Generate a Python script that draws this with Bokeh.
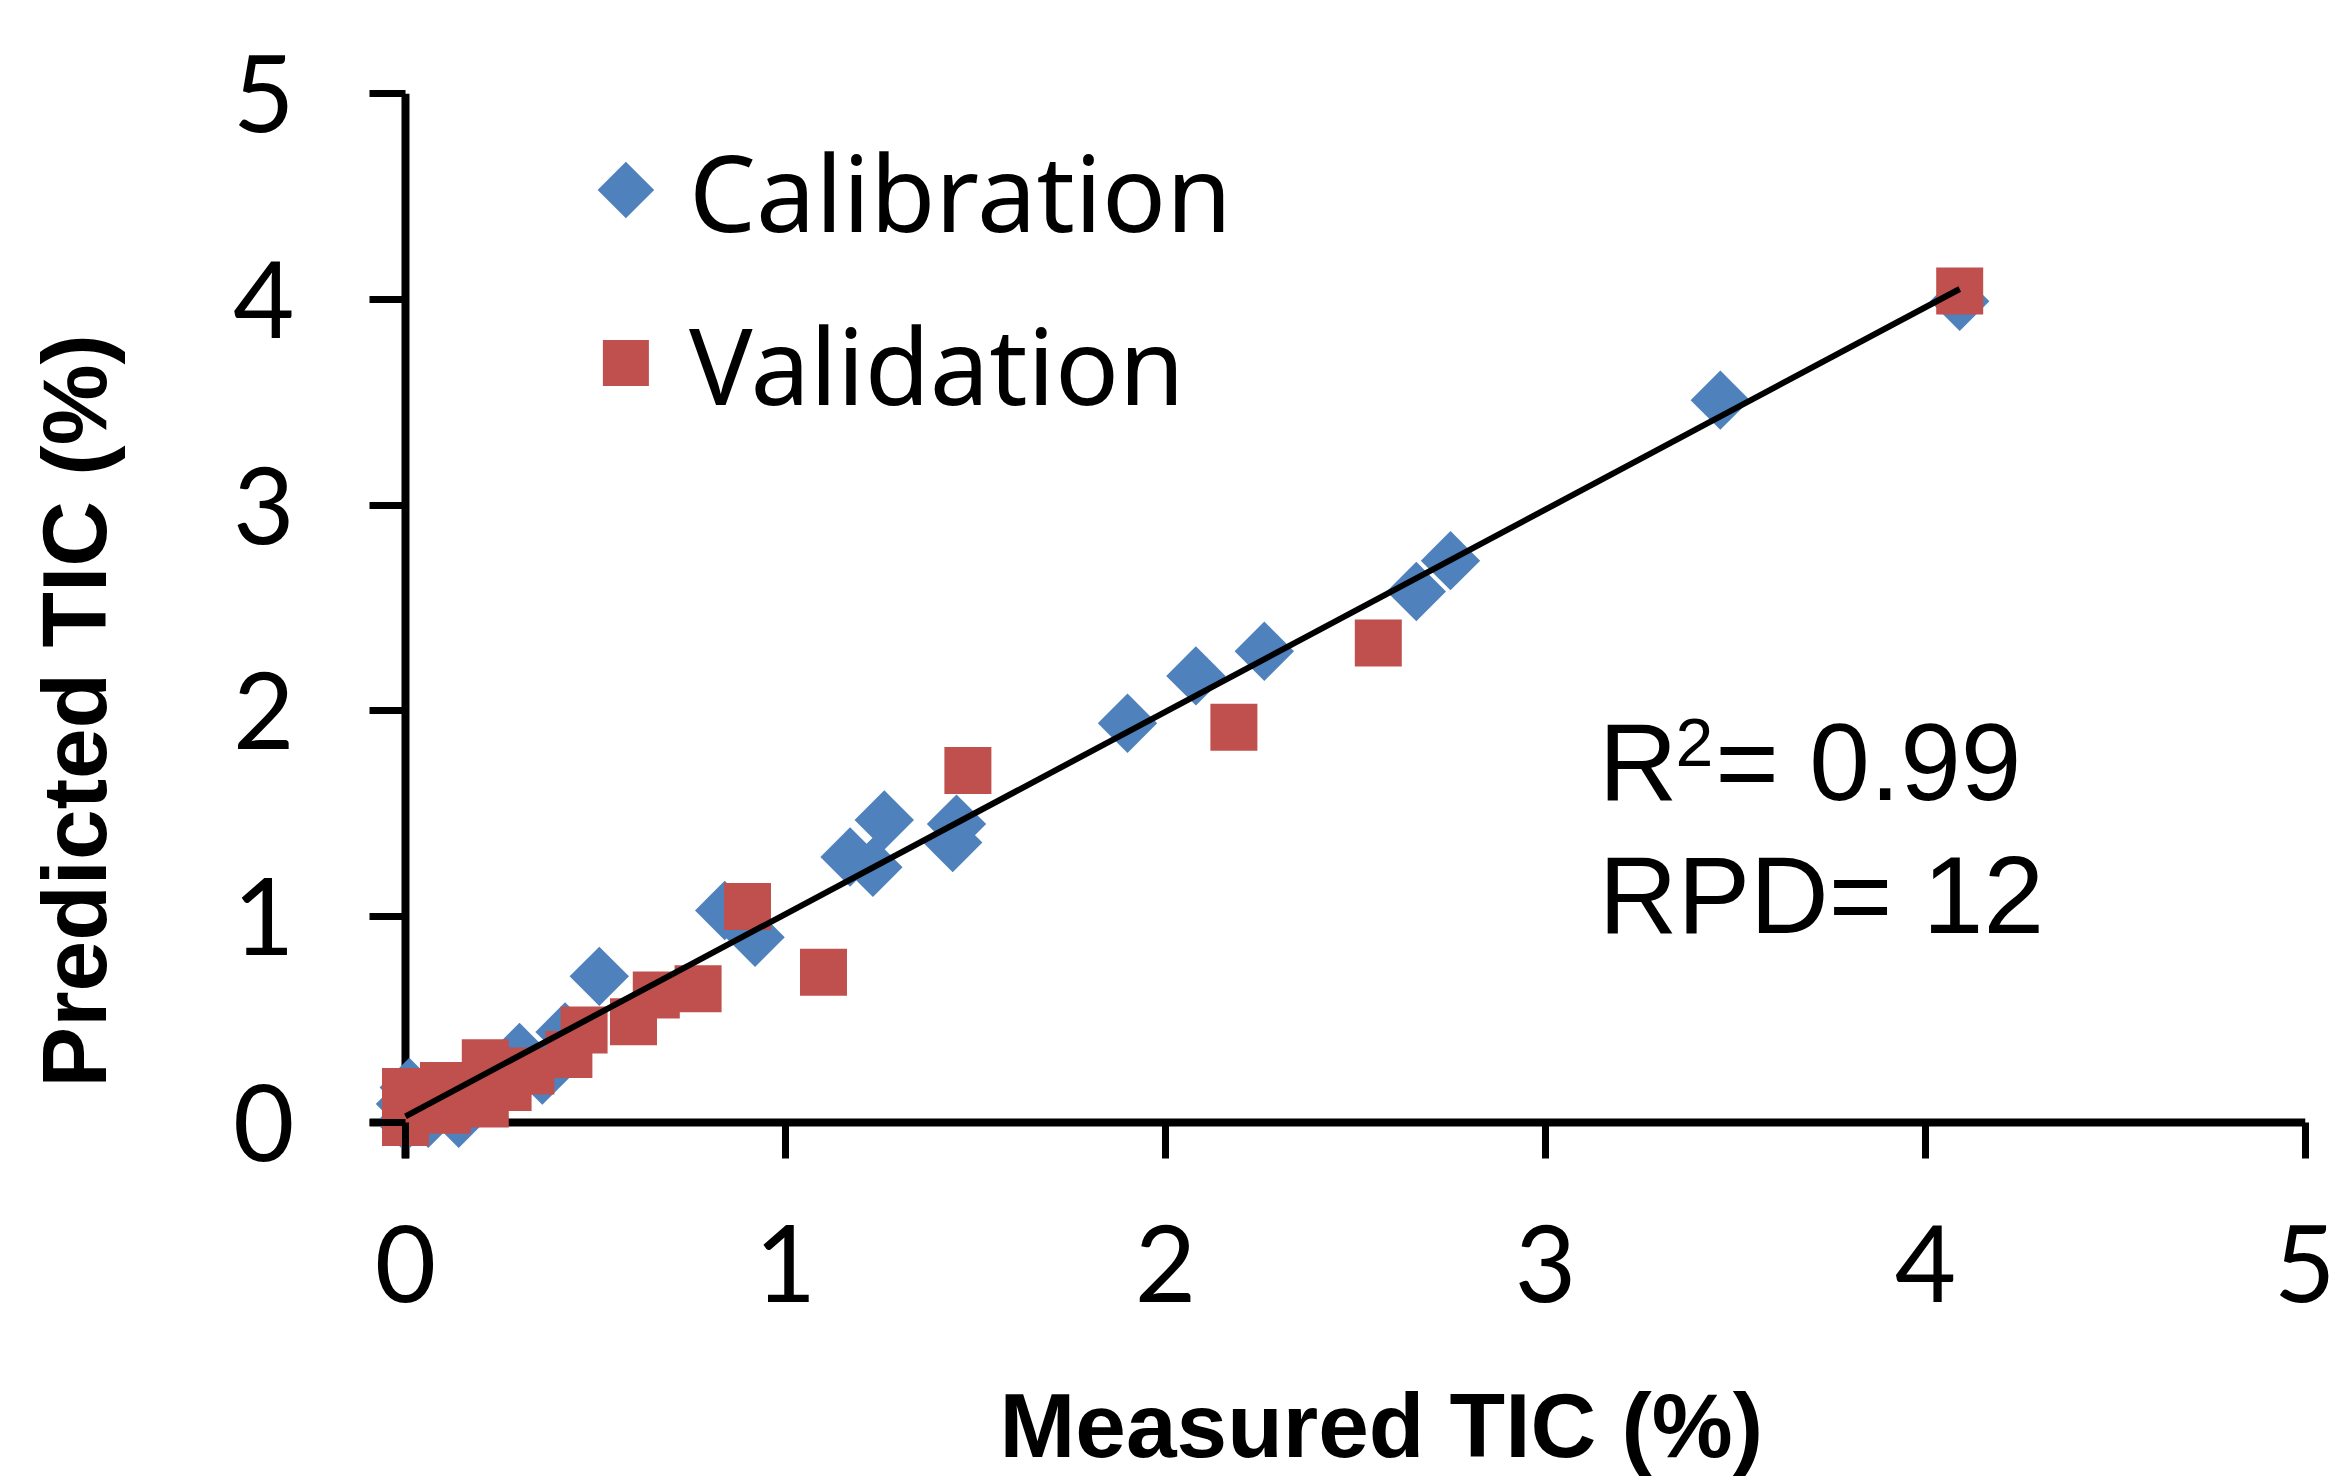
import numpy as np
from bokeh.plotting import figure
from bokeh.models import (Range1d, FixedTicker, Span, Label, Legend, LegendItem, Title,
                          LinearAxis)
from bokeh.embed import file_html
from bokeh.resources import INLINE

# ---- data ----
cal_x = [0.00, 0.00, 0.01, 0.06, 0.14, 0.05, 0.12, 0.18, 0.24, 0.30, 0.36, 0.41, 0.42,
         0.51, 0.84, 0.92, 1.17, 1.23, 1.26, 1.44, 1.45, 1.90, 2.08, 2.26, 2.66, 2.75,
         3.46, 4.09]
cal_y = [0.00, 0.09, 0.17, 0.02, 0.02, 0.12, 0.12, 0.16, 0.22, 0.34, 0.23, 0.33, 0.44,
         0.71, 1.03, 0.90, 1.29, 1.24, 1.47, 1.36, 1.45, 1.94, 2.17, 2.29, 2.58, 2.73,
         3.51, 3.99]

val_x = [0.00, 0.00, 0.10, 0.11, 0.21, 0.21, 0.27, 0.33, 0.43, 0.47, 0.60, 0.66, 0.77,
         0.90, 1.10, 1.48, 2.18, 2.56, 4.09]
val_y = [0.00, 0.15, 0.18, 0.06, 0.09, 0.29, 0.17, 0.25, 0.33, 0.45, 0.49, 0.62, 0.65,
         1.05, 0.73, 1.71, 1.92, 2.33, 4.04]

fit_x = [0.00, 4.09]
fit_y = [0.03, 4.05]

ticks = [0, 1, 2, 3, 4, 5]
series_names = ["Calibration", "Validation"]
x_title = "Measured TIC (%)"
y_title = "Predicted TIC (%)"

BLUE = "#4F81BD"
RED = "#C0504D"

p = figure(width=2335, height=1476, output_backend="svg", toolbar_location=None,
           x_range=Range1d(-0.0947, 5.0), y_range=Range1d(-0.175, 5.0),
           min_border_left=369, min_border_right=30, min_border_top=93,
           min_border_bottom=318)
p.outline_line_color = None
p.grid.visible = False
p.background_fill_color = "white"

# axis lines through the origin (under the markers)
p.add_layout(Span(location=0, dimension="height", line_color="black", line_width=8,
                  level="underlay"))
p.add_layout(Span(location=0, dimension="width", line_color="black", line_width=8,
                  level="underlay"))

r_cal = p.scatter(cal_x, cal_y, marker="square", angle=np.pi / 4, size=42,
                  fill_color=BLUE, line_color=None)
r_val = p.scatter(val_x, val_y, marker="square", size=47,
                  fill_color=RED, line_color=None)
p.line(fit_x, fit_y, line_color="black", line_width=6)

for ax in (p.xaxis, p.yaxis):
    ax.ticker = FixedTicker(ticks=ticks)
    ax.axis_line_color = None
    ax.major_tick_line_color = "black"
    ax.major_tick_line_width = 7
    ax.major_tick_in = 36
    ax.major_tick_out = 0
    ax.minor_tick_line_color = None
    ax.major_label_text_font = "Lato"
    ax.major_label_text_font_size = "106px"
    ax.major_label_text_color = "black"
p.xaxis.major_label_standoff = 66
p.yaxis.major_label_standoff = 75


def spacer(gap):
    # a blank axis (white tick, no label) that only reserves room
    # between the tick labels and the axis title
    return LinearAxis(ticker=FixedTicker(ticks=[2.5]), axis_line_color=None,
                      major_tick_line_color="white", major_tick_line_width=1,
                      minor_tick_line_color=None,
                      major_tick_in=0, major_tick_out=gap, minor_tick_in=0,
                      minor_tick_out=0, major_label_standoff=0,
                      major_label_overrides={2.5: ""},
                      major_label_text_font_size="1px")


p.add_layout(spacer(68), "below")
p.add_layout(spacer(106), "left")

title_style = dict(text_font="Liberation Sans", text_font_style="bold",
                   text_font_size="91px", text_color="black", standoff=0)
p.add_layout(Title(text=x_title, align="left", offset=630, **title_style), "below")
p.add_layout(Title(text=y_title, align="left", offset=71, **title_style), "left")

# legend: text through a Legend, markers drawn as the chart draws them
leg_cal = p.scatter([], [], marker="square", fill_alpha=0, line_alpha=0)
leg_val = p.scatter([], [], marker="square", fill_alpha=0, line_alpha=0)
legend = Legend(items=[LegendItem(label=series_names[0], renderers=[leg_cal]),
                       LegendItem(label=series_names[1], renderers=[leg_val])],
                location=(202, 708), orientation="vertical",
                glyph_width=108, glyph_height=173, label_height=173,
                spacing=0, padding=0, margin=0, label_standoff=10,
                label_text_font="Noto Sans", label_text_font_size="106px",
                label_text_color="black",
                border_line_color=None, background_fill_alpha=0)
p.add_layout(legend)
legend_mark_x = [0.58]
legend_mark_y = [4.531, 3.690]
p.scatter(legend_mark_x, legend_mark_y[:1], marker="square", angle=np.pi / 4, size=40,
          fill_color=BLUE, line_color=None)
p.scatter(legend_mark_x, legend_mark_y[1:], marker="square", size=46,
          fill_color=RED, line_color=None)

# statistics text
stat_font = "Liberation Sans"
p.add_layout(Label(x=3.14, y=1.752, text="R", text_font=stat_font,
                   text_font_size="109px", text_color="black",
                   text_baseline="alphabetic"))
p.add_layout(Label(x=3.342, y=1.845, text="2", text_font=stat_font,
                   text_font_size="68px", text_color="black",
                   text_baseline="alphabetic"))
p.add_layout(Label(x=3.447, y=1.752, text="= 0.99", text_font=stat_font,
                   text_font_size="109px", text_color="black",
                   text_baseline="alphabetic"))
p.add_layout(Label(x=3.14, y=1.104, text="RPD= 12", text_font=stat_font,
                   text_font_size="109px", text_color="black",
                   text_baseline="alphabetic"))

open("out.html", "w").write(file_html(p, INLINE))
